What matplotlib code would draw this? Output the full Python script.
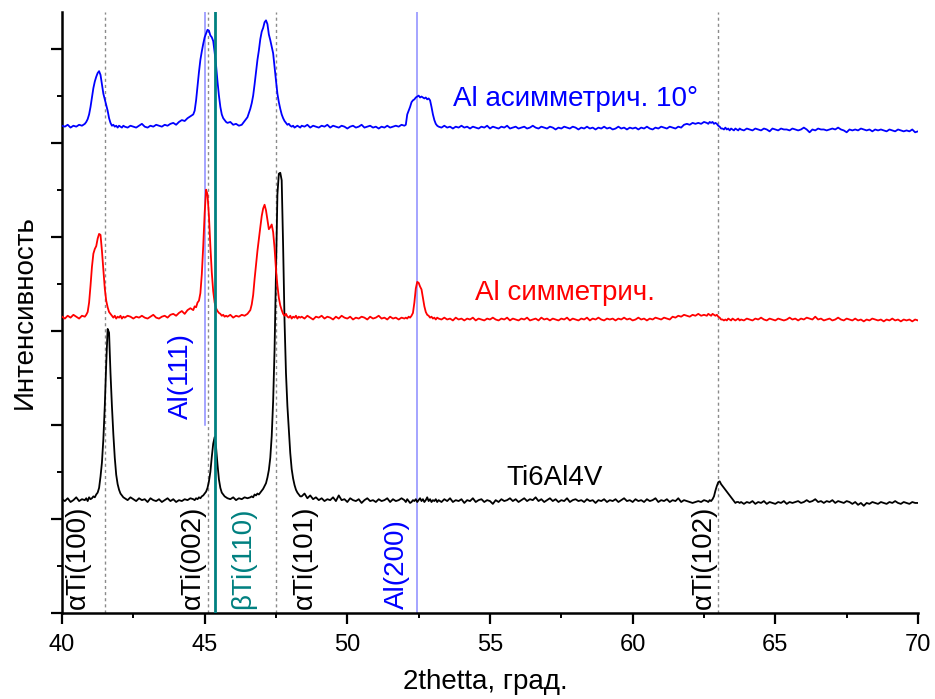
import matplotlib
matplotlib.use("Agg")
import matplotlib.pyplot as plt
from matplotlib.ticker import MultipleLocator, NullFormatter

plt.rcParams['font.family'] = ['Liberation Sans', 'DejaVu Sans']

# ---- shared 2theta grid (degrees) ----
X_A = [40.0, 40.1, 40.2, 40.3, 40.4, 40.5, 40.6, 40.7]
X_B = [40.8, 40.85, 40.9, 40.95, 41.0, 41.05, 41.1, 41.15, 41.2, 41.25, 41.3, 41.35, 41.4, 41.45,
       41.5, 41.55, 41.6, 41.65, 41.7, 41.75, 41.8, 41.85, 41.9, 41.95, 42.0, 42.05, 42.1, 42.15]
X_C = [42.2, 42.3, 42.4, 42.5, 42.6, 42.7, 42.8, 42.9, 43.0, 43.1, 43.2, 43.3, 43.4, 43.5, 43.6,
       43.7, 43.8, 43.9, 44.0, 44.1, 44.2, 44.3, 44.4, 44.5]
X_D = [44.6, 44.65, 44.7, 44.75, 44.8, 44.85, 44.9, 44.95, 45.0, 45.05, 45.1, 45.15, 45.2, 45.25,
       45.3, 45.35, 45.4, 45.45, 45.5, 45.55, 45.6, 45.65, 45.7, 45.75]
X_E = [45.8, 45.9, 46.0, 46.1, 46.2, 46.3, 46.4, 46.5]
X_F = [46.6, 46.65, 46.7, 46.75, 46.8, 46.85, 46.9, 46.95, 47.0, 47.05, 47.1, 47.15, 47.2, 47.25,
       47.3, 47.35, 47.4, 47.45, 47.5, 47.55, 47.6, 47.65, 47.7, 47.75, 47.8, 47.85, 47.9, 47.95,
       48.0, 48.05, 48.1, 48.15, 48.2, 48.25, 48.3, 48.35]
X_G = [48.4, 48.5, 48.6, 48.7, 48.8, 48.9, 49.0, 49.1, 49.2, 49.3, 49.4, 49.5, 49.6, 49.7, 49.8,
       49.9, 50.0, 50.1, 50.2, 50.3, 50.4, 50.5, 50.6, 50.7, 50.8, 50.9, 51.0, 51.1, 51.2, 51.3,
       51.4, 51.5, 51.6, 51.7, 51.8, 51.9]
X_H = [52.0, 52.05, 52.1, 52.15, 52.2, 52.25, 52.3, 52.35, 52.4, 52.45, 52.5, 52.55, 52.6, 52.65,
       52.7, 52.75, 52.8, 52.85, 52.9, 52.95, 53.0, 53.05, 53.1, 53.15]
X_I = [53.2, 53.3, 53.4, 53.5, 53.6, 53.7, 53.8, 53.9, 54.0, 54.1,
       54.2, 54.3, 54.4, 54.5, 54.6, 54.7, 54.8, 54.9, 55.0, 55.1,
       55.2, 55.3, 55.4, 55.5, 55.6, 55.7, 55.8, 55.9, 56.0, 56.1,
       56.2, 56.3, 56.4, 56.5, 56.6, 56.7, 56.8, 56.9, 57.0, 57.1,
       57.2, 57.3, 57.4, 57.5, 57.6, 57.7, 57.8, 57.9, 58.0, 58.1,
       58.2, 58.3, 58.4, 58.5, 58.6, 58.7, 58.8, 58.9, 59.0, 59.1,
       59.2, 59.3, 59.4, 59.5, 59.6, 59.7, 59.8, 59.9, 60.0, 60.1,
       60.2, 60.3, 60.4, 60.5, 60.6, 60.7, 60.8, 60.9, 61.0, 61.1,
       61.2, 61.3, 61.4, 61.5, 61.6, 61.7, 61.8, 61.9, 62.0, 62.1,
       62.2, 62.3, 62.4, 62.5]
X_J = [62.6, 62.65, 62.7, 62.75, 62.8, 62.85, 62.9, 62.95, 63.0, 63.05, 63.1, 63.15, 63.2, 63.25,
       63.3, 63.35, 63.4, 63.45, 63.5, 63.55, 63.6, 63.65, 63.7, 63.75]
X_K = [63.8, 63.9, 64.0, 64.1, 64.2, 64.3, 64.4, 64.5, 64.6, 64.7,
       64.8, 64.9, 65.0, 65.1, 65.2, 65.3, 65.4, 65.5, 65.6, 65.7,
       65.8, 65.9, 66.0, 66.1, 66.2, 66.3, 66.4, 66.5, 66.6, 66.7,
       66.8, 66.9, 67.0, 67.1, 67.2, 67.3, 67.4, 67.5, 67.6, 67.7,
       67.8, 67.9, 68.0, 68.1, 68.2, 68.3, 68.4, 68.5, 68.6, 68.7,
       68.8, 68.9, 69.0, 69.1, 69.2, 69.3, 69.4, 69.5, 69.6, 69.7,
       69.8, 69.9, 70.0]
two_theta = X_A + X_B + X_C + X_D + X_E + X_F + X_G + X_H + X_I + X_J + X_K

# ---- Ti6Al4V (black), offset units ----
ti_vals = (
    [1.21, 1.19, 1.22, 1.18, 1.20, 1.23, 1.19, 1.21] +
    [1.20, 1.22, 1.19, 1.23, 1.21, 1.22, 1.24, 1.23, 1.26, 1.28, 1.33, 1.45, 1.60, 1.85,
     2.20, 2.65, 3.02, 2.98, 2.55, 2.20, 1.90, 1.65, 1.47, 1.37, 1.31, 1.27, 1.25, 1.23] +
    [1.22, 1.20, 1.23, 1.21, 1.19, 1.22, 1.20, 1.21, 1.18, 1.22, 1.20, 1.19, 1.21, 1.18, 1.20,
     1.22, 1.19, 1.21, 1.18, 1.20, 1.19, 1.21, 1.20, 1.22] +
    [1.21, 1.20, 1.22, 1.21, 1.23, 1.22, 1.24, 1.25, 1.27, 1.29, 1.33, 1.40, 1.50, 1.66,
     1.80, 1.87, 1.76, 1.58, 1.42, 1.33, 1.28, 1.26, 1.24, 1.23] +
    [1.22, 1.21, 1.23, 1.20, 1.22, 1.21, 1.23, 1.22] +
    [1.23, 1.24, 1.23, 1.26, 1.25, 1.27, 1.26, 1.28, 1.30, 1.32, 1.35, 1.38, 1.44, 1.52,
     1.65, 1.88, 2.25, 2.80, 3.60, 4.45, 4.67, 4.68, 4.60, 3.90, 3.10, 2.55, 2.20, 1.95,
     1.70, 1.53, 1.43, 1.36, 1.31, 1.28, 1.26, 1.24] +
    [1.24, 1.27, 1.22, 1.25, 1.21, 1.23, 1.20, 1.22, 1.19, 1.21, 1.20, 1.23, 1.19, 1.25, 1.20,
     1.21, 1.18, 1.22, 1.20, 1.19, 1.21, 1.17, 1.20, 1.22, 1.19, 1.20, 1.18, 1.21, 1.19, 1.20,
     1.22, 1.18, 1.21, 1.19, 1.20, 1.22] +
    [1.20, 1.18, 1.21, 1.19, 1.17, 1.18, 1.20, 1.19, 1.21, 1.18, 1.20, 1.22, 1.19, 1.21,
     1.18, 1.20, 1.23, 1.19, 1.21, 1.18, 1.20, 1.19, 1.21, 1.18] +
    [1.20, 1.18, 1.21, 1.19, 1.22, 1.18, 1.20, 1.19, 1.21, 1.17,
     1.20, 1.19, 1.22, 1.18, 1.20, 1.21, 1.18, 1.20, 1.19, 1.16,
     1.20, 1.18, 1.21, 1.19, 1.20, 1.22, 1.19, 1.21, 1.18, 1.20,
     1.22, 1.19, 1.21, 1.20, 1.23, 1.19, 1.21, 1.18, 1.20, 1.22,
     1.19, 1.21, 1.18, 1.20, 1.19, 1.22, 1.18, 1.20, 1.21, 1.19,
     1.20, 1.18, 1.21, 1.19, 1.20, 1.17, 1.20, 1.19, 1.21, 1.18,
     1.20, 1.19, 1.21, 1.18, 1.20, 1.22, 1.19, 1.20, 1.18, 1.21,
     1.19, 1.20, 1.18, 1.21, 1.19, 1.20, 1.22, 1.18, 1.20, 1.19,
     1.21, 1.18, 1.20, 1.19, 1.22, 1.18, 1.20, 1.19, 1.18, 1.17,
     1.18, 1.19, 1.18, 1.20] +
    [1.19, 1.18, 1.20, 1.19, 1.21, 1.24, 1.30, 1.35, 1.39, 1.40, 1.37, 1.35, 1.33, 1.31,
     1.29, 1.27, 1.25, 1.23, 1.21, 1.19, 1.17, 1.18, 1.18, 1.17] +
    [1.18, 1.16, 1.18, 1.17, 1.19, 1.16, 1.18, 1.17, 1.19, 1.16,
     1.18, 1.17, 1.16, 1.18, 1.17, 1.19, 1.16, 1.18, 1.17, 1.18,
     1.19, 1.17, 1.18, 1.20, 1.18, 1.19, 1.21, 1.18, 1.19, 1.17,
     1.19, 1.18, 1.20, 1.17, 1.19, 1.18, 1.17, 1.19, 1.18, 1.16,
     1.18, 1.15, 1.17, 1.14, 1.17, 1.16, 1.18, 1.17, 1.16, 1.18,
     1.17, 1.16, 1.18, 1.17, 1.19, 1.17, 1.16, 1.18, 1.17, 1.16,
     1.18, 1.17, 1.17]
)

# ---- Al symmetric (red) ----
al_sym_vals = (
    [3.15, 3.13, 3.16, 3.14, 3.17, 3.15, 3.13, 3.16] +
    [3.15, 3.17, 3.20, 3.30, 3.48, 3.68, 3.82, 3.87, 3.90, 3.98, 4.03, 4.02, 3.85, 3.65,
     3.45, 3.32, 3.25, 3.20, 3.18, 3.16, 3.14, 3.16, 3.13, 3.15, 3.14, 3.16, 3.13, 3.15] +
    [3.14, 3.16, 3.15, 3.13, 3.15, 3.14, 3.16, 3.14, 3.13, 3.15, 3.17, 3.14, 3.13, 3.15, 3.16,
     3.14, 3.17, 3.18, 3.16, 3.19, 3.21, 3.18, 3.22, 3.24] +
    [3.22, 3.26, 3.25, 3.30, 3.32, 3.40, 3.60, 3.90, 4.25, 4.50, 4.45, 4.22, 3.90, 3.62,
     3.42, 3.30, 3.24, 3.21, 3.19, 3.18, 3.16, 3.17, 3.15, 3.16] +
    [3.15, 3.17, 3.14, 3.16, 3.15, 3.17, 3.16, 3.18] +
    [3.22, 3.28, 3.38, 3.55, 3.70, 3.85, 3.98, 4.10, 4.22, 4.30, 4.34, 4.28, 4.18, 4.08,
     4.10, 4.13, 4.05, 3.88, 3.65, 3.48, 3.35, 3.27, 3.22, 3.18, 3.16, 3.18, 3.15, 3.14,
     3.16, 3.13, 3.15, 3.14, 3.16, 3.13, 3.15, 3.14] +
    [3.15, 3.13, 3.16, 3.14, 3.12, 3.15, 3.14, 3.16, 3.13, 3.15, 3.14, 3.12, 3.15, 3.13, 3.16,
     3.14, 3.13, 3.15, 3.12, 3.14, 3.13, 3.15, 3.14, 3.12, 3.15, 3.13, 3.14, 3.16, 3.13, 3.14,
     3.12, 3.15, 3.13, 3.14, 3.12, 3.14] +
    [3.13, 3.14, 3.13, 3.15, 3.14, 3.16, 3.19, 3.30, 3.45, 3.52, 3.51, 3.47, 3.44, 3.35,
     3.26, 3.20, 3.17, 3.16, 3.14, 3.15, 3.13, 3.14, 3.12, 3.14] +
    [3.13, 3.12, 3.14, 3.12, 3.13, 3.11, 3.14, 3.12, 3.13, 3.11,
     3.13, 3.12, 3.14, 3.11, 3.13, 3.12, 3.11, 3.13, 3.12, 3.14,
     3.12, 3.11, 3.13, 3.12, 3.14, 3.11, 3.13, 3.12, 3.11, 3.13,
     3.12, 3.14, 3.11, 3.12, 3.13, 3.11, 3.14, 3.12, 3.13, 3.11,
     3.13, 3.12, 3.11, 3.13, 3.12, 3.14, 3.11, 3.13, 3.12, 3.11,
     3.13, 3.12, 3.14, 3.11, 3.13, 3.12, 3.14, 3.12, 3.11, 3.13,
     3.12, 3.13, 3.11, 3.13, 3.12, 3.14, 3.12, 3.13, 3.11, 3.12,
     3.14, 3.12, 3.13, 3.11, 3.13, 3.12, 3.14, 3.13, 3.12, 3.14,
     3.13, 3.12, 3.15, 3.14, 3.16, 3.15, 3.17, 3.16, 3.15, 3.17,
     3.16, 3.18, 3.16, 3.17] +
    [3.16, 3.18, 3.17, 3.16, 3.18, 3.17, 3.16, 3.17, 3.15, 3.14, 3.12, 3.12, 3.11, 3.12,
     3.11, 3.13, 3.12, 3.11, 3.13, 3.12, 3.11, 3.12, 3.13, 3.11] +
    [3.12, 3.11, 3.13, 3.12, 3.11, 3.13, 3.12, 3.14, 3.12, 3.11,
     3.13, 3.12, 3.11, 3.13, 3.12, 3.11, 3.12, 3.14, 3.12, 3.13,
     3.11, 3.13, 3.12, 3.14, 3.13, 3.12, 3.15, 3.12, 3.13, 3.11,
     3.12, 3.13, 3.11, 3.12, 3.14, 3.12, 3.11, 3.13, 3.12, 3.11,
     3.13, 3.11, 3.12, 3.10, 3.12, 3.11, 3.13, 3.12, 3.11, 3.12,
     3.10, 3.12, 3.11, 3.13, 3.11, 3.12, 3.10, 3.12, 3.11, 3.12,
     3.10, 3.12, 3.11]
)

# ---- Al asymmetric 10 deg (blue) ----
al_asym_vals = (
    [5.18, 5.17, 5.19, 5.16, 5.18, 5.17, 5.19, 5.18] +
    [5.20, 5.22, 5.25, 5.30, 5.38, 5.48, 5.58, 5.65, 5.70, 5.74, 5.76, 5.72, 5.62, 5.52,
     5.46, 5.40, 5.34, 5.26, 5.21, 5.18, 5.19, 5.17, 5.18, 5.16, 5.18, 5.17, 5.16, 5.18] +
    [5.17, 5.16, 5.18, 5.17, 5.16, 5.18, 5.20, 5.17, 5.16, 5.18, 5.17, 5.19, 5.18, 5.17, 5.19,
     5.18, 5.20, 5.21, 5.19, 5.22, 5.24, 5.23, 5.26, 5.28] +
    [5.30, 5.34, 5.45, 5.60, 5.75, 5.88, 5.97, 6.05, 6.12, 6.16, 6.20, 6.19, 6.14, 6.12,
     6.08, 5.96, 5.82, 5.65, 5.50, 5.38, 5.30, 5.26, 5.24, 5.22] +
    [5.21, 5.22, 5.19, 5.20, 5.18, 5.19, 5.23, 5.27] +
    [5.36, 5.42, 5.50, 5.62, 5.75, 5.88, 5.98, 6.10, 6.18, 6.22, 6.28, 6.30, 6.26, 6.15,
     6.09, 6.02, 5.95, 5.80, 5.66, 5.52, 5.43, 5.36, 5.30, 5.26, 5.23, 5.21, 5.19, 5.20,
     5.18, 5.17, 5.18, 5.16, 5.17, 5.18, 5.17, 5.16] +
    [5.18, 5.17, 5.19, 5.16, 5.18, 5.17, 5.16, 5.18, 5.17, 5.19, 5.16, 5.18, 5.17, 5.16, 5.18,
     5.17, 5.15, 5.17, 5.18, 5.16, 5.17, 5.19, 5.16, 5.17, 5.18, 5.16, 5.17, 5.15, 5.17, 5.16,
     5.18, 5.16, 5.17, 5.18, 5.17, 5.19] +
    [5.18, 5.19, 5.30, 5.34, 5.38, 5.43, 5.45, 5.46, 5.48, 5.49, 5.50, 5.48, 5.49, 5.48,
     5.47, 5.48, 5.46, 5.47, 5.45, 5.38, 5.30, 5.24, 5.20, 5.18] +
    [5.17, 5.16, 5.18, 5.16, 5.17, 5.15, 5.17, 5.16, 5.18, 5.16,
     5.17, 5.15, 5.17, 5.16, 5.15, 5.17, 5.16, 5.18, 5.15, 5.17,
     5.16, 5.15, 5.17, 5.16, 5.18, 5.15, 5.16, 5.17, 5.15, 5.16,
     5.17, 5.15, 5.16, 5.18, 5.16, 5.15, 5.17, 5.16, 5.15, 5.17,
     5.16, 5.14, 5.16, 5.15, 5.17, 5.16, 5.15, 5.17, 5.16, 5.14,
     5.16, 5.15, 5.17, 5.15, 5.16, 5.14, 5.16, 5.15, 5.17, 5.15,
     5.16, 5.14, 5.15, 5.17, 5.15, 5.16, 5.14, 5.16, 5.15, 5.16,
     5.14, 5.16, 5.15, 5.17, 5.15, 5.14, 5.16, 5.15, 5.17, 5.16,
     5.15, 5.17, 5.16, 5.15, 5.17, 5.16, 5.19, 5.20, 5.19, 5.21,
     5.20, 5.21, 5.20, 5.22] +
    [5.21, 5.20, 5.22, 5.21, 5.22, 5.20, 5.21, 5.20, 5.18, 5.17, 5.15, 5.15, 5.14, 5.16,
     5.14, 5.15, 5.13, 5.15, 5.14, 5.13, 5.15, 5.14, 5.13, 5.15] +
    [5.14, 5.13, 5.15, 5.14, 5.13, 5.15, 5.14, 5.13, 5.15, 5.14,
     5.12, 5.15, 5.14, 5.13, 5.15, 5.14, 5.14, 5.13, 5.15, 5.14,
     5.13, 5.14, 5.16, 5.14, 5.11, 5.14, 5.13, 5.15, 5.14, 5.14,
     5.13, 5.14, 5.15, 5.14, 5.16, 5.14, 5.13, 5.11, 5.14, 5.13,
     5.14, 5.13, 5.15, 5.14, 5.13, 5.14, 5.12, 5.14, 5.13, 5.14,
     5.13, 5.12, 5.14, 5.13, 5.12, 5.14, 5.13, 5.12, 5.13, 5.12,
     5.14, 5.11, 5.12]
)

# ---- reference reflections ----
alpha_ti_pos = [41.5, 45.1, 47.5, 63.0]
al_pos = [45.0, 52.45]
beta_ti_pos = 45.35
x_ticks = [40, 45, 50, 55, 60, 65, 70]

YMAX = 6.39

fig = plt.figure(figsize=(9.35, 6.99), dpi=100)
ax = fig.add_axes([0.0663, 0.123, 0.9155, 0.860])

# reference lines
for p in alpha_ti_pos:
    ax.plot([p, p], [0, YMAX], color='#8a8a8a', lw=1.0, ls=(0, (2.2, 2.2)), zorder=1)
ax.plot([al_pos[0], al_pos[0]], [2.0, YMAX], color='#8c8cff', lw=1.1, zorder=1)
ax.plot([al_pos[1], al_pos[1]], [0, YMAX], color='#8c8cff', lw=1.1, zorder=1)

# spectra
ax.plot(two_theta, ti_vals, color='black', lw=1.3, zorder=3)
ax.plot(two_theta, al_sym_vals, color='#ff0000', lw=1.3, zorder=3)
ax.plot(two_theta, al_asym_vals, color='#0000ff', lw=1.3, zorder=3)

ax.plot([beta_ti_pos, beta_ti_pos], [0, YMAX], color='#008080', lw=2.0, zorder=4)

# rotated reflection labels
lab_fs = 20
lab_y = 0.04
ax.text(40.56, lab_y, 'αTi(100)', rotation=90, ha='center', va='bottom', fontsize=lab_fs, color='black')
ax.text(44.60, lab_y, 'αTi(002)', rotation=90, ha='center', va='bottom', fontsize=lab_fs, color='black')
ax.text(46.35, lab_y, 'βTi(110)', rotation=90, ha='center', va='bottom', fontsize=lab_fs, color='#008080')
ax.text(48.50, lab_y, 'αTi(101)', rotation=90, ha='center', va='bottom', fontsize=lab_fs, color='black')
ax.text(51.75, lab_y, 'Al(200)', rotation=90, ha='center', va='bottom', fontsize=lab_fs, color='#0000ff')
ax.text(62.50, lab_y, 'αTi(102)', rotation=90, ha='center', va='bottom', fontsize=lab_fs, color='black')
ax.text(44.18, 2.06, 'Al(111)', rotation=90, ha='center', va='bottom', fontsize=lab_fs, color='#0000ff')

# series labels
ax.text(53.72, 5.46, 'Al асимметрич. 10°', ha='left', va='center', fontsize=lab_fs, color='#0000ff')
ax.text(54.49, 3.40, 'Al симметрич.', ha='left', va='center', fontsize=lab_fs, color='#ff0000')
ax.text(55.58, 1.44, 'Ti6Al4V', ha='left', va='center', fontsize=lab_fs, color='black')

ax.set_xlim(40, 70)
ax.set_ylim(0, YMAX)
ax.set_xticks(x_ticks)
ax.set_xticklabels([str(t) for t in x_ticks])
ax.xaxis.set_minor_locator(MultipleLocator(2.5))
ax.yaxis.set_major_locator(MultipleLocator(1))
ax.yaxis.set_minor_locator(MultipleLocator(0.5))
ax.yaxis.set_major_formatter(NullFormatter())

for s in ['top', 'right']:
    ax.spines[s].set_visible(False)
for s in ['left', 'bottom']:
    ax.spines[s].set_linewidth(1.8)
ax.tick_params(axis='both', which='major', direction='out', length=8, width=1.6, labelsize=17)
ax.tick_params(axis='both', which='minor', direction='out', length=3.5, width=1.4)
ax.tick_params(axis='x', pad=7)

ax.set_xlabel('2thetta, град.', fontsize=20)
ax.xaxis.set_label_coords(0.495, -0.093)
ax.set_ylabel('Интенсивность', fontsize=20)
ax.yaxis.set_label_coords(-0.028, 0.5)

fig.savefig('out.png', dpi=100)
